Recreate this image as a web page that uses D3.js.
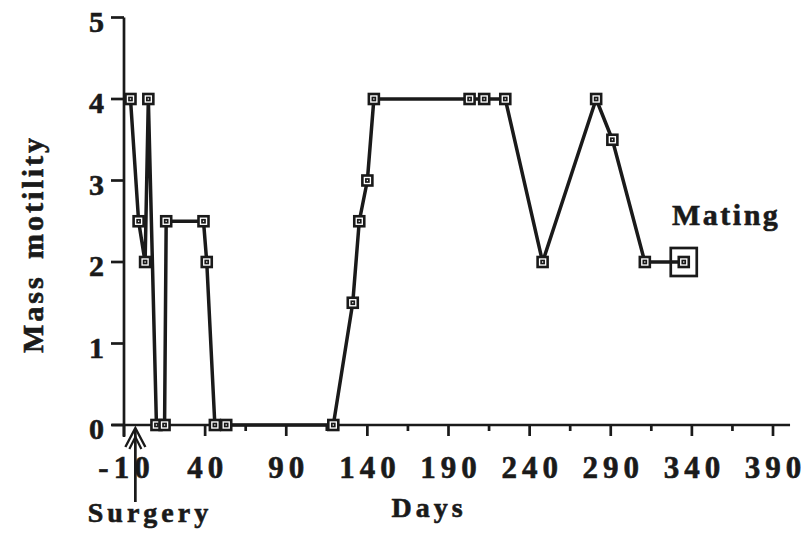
<!DOCTYPE html>
<html>
<head>
<meta charset="utf-8">
<script src="https://cdn.jsdelivr.net/npm/d3@7"></script>
<style>
  body { margin: 0; background: #fff; }
  svg { display: block; }
  text { font-family: "Liberation Serif", "Times New Roman", serif; font-weight: bold; fill: #1a1a1a; stroke: #1a1a1a; stroke-width: 0.6px; }
</style>
</head>
<body>
<div id="chart"></div>
<script>
// mass motility readings (day, score)
const days   = [-6, -1, 3, 5, 10, 15, 16, 39, 41, 46, 53, 119, 131, 135, 140, 144, 203, 212, 225, 248, 281, 291, 311, 335];
const scores = [4, 2.5, 2, 4, 0, 0, 2.5, 2.5, 2, 0, 0, 0, 1.5, 2.5, 3, 4, 4, 4, 4, 2, 4, 3.5, 2, 2];
const xTicks = [-10, 40, 90, 140, 190, 240, 290, 340, 390];
const xMinorTicks = [15, 65, 115, 165, 215, 265, 315, 365];
const yTicks = [0, 1, 2, 3, 4, 5];
const surgeryDay = -3;
const matingIndex = 23;

const W = 806, H = 538;
const data = days.map((d, i) => ({ day: d, score: scores[i] }));

const svg = d3.select('#chart').append('svg')
  .attr('width', W)
  .attr('height', H);

const x = d3.scaleLinear().domain([-10, 390]).range([124, 773]);
const y = d3.scaleLinear().domain([0, 5]).range([425, 17.5]);

// y axis
svg.append('line')
  .attr('x1', x(-10)).attr('x2', x(-10))
  .attr('y1', y(5)).attr('y2', y(0) + 12)
  .attr('stroke', '#1a1a1a').attr('stroke-width', 2.7);

svg.selectAll('.ytick').data(yTicks).enter().append('line')
  .attr('class', 'ytick')
  .attr('x1', x(-10) - 13).attr('x2', x(-10))
  .attr('y1', d => y(d)).attr('y2', d => y(d))
  .attr('stroke', '#1a1a1a').attr('stroke-width', 2.7);

svg.selectAll('.ylab').data(yTicks).enter().append('text')
  .attr('class', 'ylab')
  .attr('x', 104)
  .attr('y', d => y(d) + 14)
  .attr('text-anchor', 'end')
  .style('font-size', '30px')
  .text(d => d);

// x axis
svg.append('line')
  .attr('x1', x(-10) - 12).attr('x2', x(400.5))
  .attr('y1', y(0)).attr('y2', y(0))
  .attr('stroke', '#1a1a1a').attr('stroke-width', 2.7);

svg.selectAll('.xtick').data(xTicks).enter().append('line')
  .attr('class', 'xtick')
  .attr('x1', d => x(d)).attr('x2', d => x(d))
  .attr('y1', y(0)).attr('y2', y(0) + 11)
  .attr('stroke', '#1a1a1a').attr('stroke-width', 2.7);

svg.selectAll('.xminor').data(xMinorTicks).enter().append('line')
  .attr('class', 'xminor')
  .attr('x1', d => x(d)).attr('x2', d => x(d))
  .attr('y1', y(0)).attr('y2', y(0) + 6)
  .attr('stroke', '#1a1a1a').attr('stroke-width', 2.7);

svg.selectAll('.xlab').data(xTicks).enter().append('text')
  .attr('class', 'xlab')
  .attr('x', d => x(d) + 2.5)
  .attr('y', 478)
  .attr('text-anchor', 'middle')
  .style('font-size', '31px')
  .style('letter-spacing', '5px')
  .text(d => d);

// axis titles
svg.append('text')
  .attr('x', 429).attr('y', 517)
  .attr('text-anchor', 'middle')
  .style('font-size', '28px')
  .style('letter-spacing', '4px')
  .text('Days');

svg.append('text')
  .attr('transform', 'translate(43,244) rotate(-90)')
  .attr('text-anchor', 'middle')
  .style('font-size', '30px')
  .style('letter-spacing', '3px')
  .style('word-spacing', '5px')
  .text('Mass motility');

// data line
const line = d3.line()
  .x(d => x(d.day))
  .y(d => y(d.score));

svg.append('path')
  .datum(data)
  .attr('d', line)
  .attr('fill', 'none')
  .attr('stroke', '#1a1a1a')
  .attr('stroke-width', 3.5)
  .attr('stroke-linejoin', 'round');

// markers
const marks = svg.selectAll('.mark').data(data).enter().append('g')
  .attr('class', 'mark')
  .attr('transform', d => `translate(${x(d.day)},${y(d.score)})`);

marks.append('rect')
  .attr('x', -5).attr('y', -5).attr('width', 10).attr('height', 10)
  .attr('fill', '#fff').attr('stroke', '#1a1a1a').attr('stroke-width', 2.6);

marks.append('rect')
  .attr('x', -1.5).attr('y', -1.5).attr('width', 3).attr('height', 3)
  .attr('fill', '#fff').attr('stroke', '#1a1a1a').attr('stroke-width', 1.7);

// mating highlight
const mating = data[matingIndex];
svg.append('rect')
  .attr('x', x(mating.day) - 13).attr('y', y(mating.score) - 14)
  .attr('width', 26).attr('height', 28)
  .attr('fill', 'none').attr('stroke', '#1a1a1a').attr('stroke-width', 2.7);

svg.append('text')
  .attr('x', 672).attr('y', 225)
  .style('font-size', '30px')
  .style('letter-spacing', '2.5px')
  .text('Mating');

// surgery arrow
const sx = x(surgeryDay);
svg.append('path')
  .attr('d', `M${sx - 10},${y(0) + 22} L${sx},${y(0) + 3} L${sx + 10},${y(0) + 22}`)
  .attr('fill', 'none').attr('stroke', '#1a1a1a').attr('stroke-width', 2.4);
svg.append('path')
  .attr('d', `M${sx - 6},${y(0) + 24} L${sx},${y(0) + 12} L${sx + 6},${y(0) + 24}`)
  .attr('fill', 'none').attr('stroke', '#1a1a1a').attr('stroke-width', 2.2);
svg.append('line')
  .attr('x1', sx).attr('x2', sx)
  .attr('y1', y(0) + 5).attr('y2', 502)
  .attr('stroke', '#1a1a1a').attr('stroke-width', 2.7);

svg.append('text')
  .attr('x', 150).attr('y', 522)
  .attr('text-anchor', 'middle')
  .style('font-size', '28px')
  .style('letter-spacing', '4px')
  .text('Surgery');
</script>
</body>
</html>
